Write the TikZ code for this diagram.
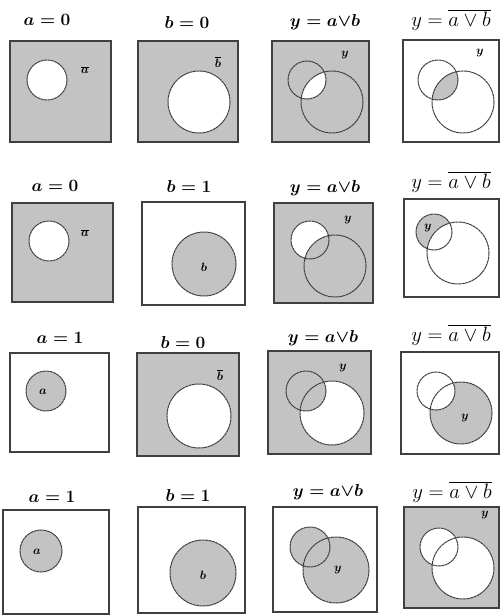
\documentclass[tikz,border=0pt]{standalone}
\begin{document}
\begin{tikzpicture}[x=1pt,y=-1pt,
  box/.style={draw=black!75, line width=1.1pt},
  circ/.style={draw=black!75, line width=1pt, dash pattern=on 3pt off 0.5pt},
  ttl/.style={font=\fontsize{19}{22}\selectfont\boldmath, inner sep=0pt},
  ttlb/.style={font=\fontsize{21}{24}\selectfont, inner sep=0pt},
  lbl/.style={font=\fontsize{12}{14}\selectfont\boldmath, inner sep=0pt}]
\definecolor{sh}{RGB}{195,195,195}
\useasboundingbox (0,0) rectangle (501,616);
% ---------------- Row 1 ----------------
\filldraw[box, fill=sh] (10,41) rectangle (111,142);
\filldraw[circ, fill=white] (47,80) circle (20);
\node[lbl] (l11) at (85,70) {$\overline{a}$};
\node[ttl] (t11) at (47,20) {$a = 0$};
\filldraw[box, fill=sh] (138,41) rectangle (238,142);
\filldraw[circ, fill=white] (199,102) circle (31);
\node[lbl] (l12) at (218,62) {$\overline{b}$};
\node[ttl] (t12) at (187,22) {$b = 0$};
\filldraw[box, fill=sh] (272,41) rectangle (369,142);
\begin{scope}\clip (307,80) circle (19); \fill[white] (332,102) circle (31);\end{scope}
\draw[circ] (307,80) circle (19) (332,102) circle (31);
\node[lbl] (l13) at (345,55) {$y$};
\node[ttl] (t13) at (325,22) {$y = a{\vee}b$};
\draw[box] (403,40) rectangle (499,142);
\begin{scope}\clip (438,80) circle (20); \fill[sh] (463,102) circle (31);\end{scope}
\draw[circ] (438,80) circle (20) (463,102) circle (31);
\node[lbl] (l14) at (480,53) {$y$};
\node[ttlb] (t14) at (451,20) {$y = \overline{a\vee b}$};
% ---------------- Row 2 ----------------
\filldraw[box, fill=sh] (12,203) rectangle (113,302);
\filldraw[circ, fill=white] (49,241) circle (20);
\node[lbl] (l21) at (85,233) {$\overline{a}$};
\node[ttl] (t21) at (55,186) {$a = 0$};
\draw[box] (142,202) rectangle (245,305);
\filldraw[circ, fill=sh] (204,264) circle (32);
\node[lbl] (l22) at (204,267) {$b$};
\node[ttl] (t22) at (189,186) {$b = 1$};
\filldraw[box, fill=sh] (274,203) rectangle (373,303);
\fill[white] (310,240) circle (19);
\fill[sh] (335,266) circle (31);
\draw[circ] (310,240) circle (19) (335,266) circle (31);
\node[lbl] (l23) at (348,220) {$y$};
\node[ttl] (t23) at (325,188) {$y = a{\vee}b$};
\draw[box] (404,199) rectangle (499,297);
\fill[sh] (434,232) circle (18);
\fill[white] (458,253) circle (31);
\draw[circ] (434,232) circle (18) (458,253) circle (31);
\node[lbl] (l24) at (428,228) {$y$};
\node[ttlb] (t24) at (451,182) {$y = \overline{a\vee b}$};
% ---------------- Row 3 ----------------
\draw[box] (10,353) rectangle (109,452);
\filldraw[circ, fill=sh] (46,391) circle (20);
\node[lbl] (l31) at (43,392) {$a$};
\node[ttl] (t31) at (60,338) {$a = 1$};
\filldraw[box, fill=sh] (137,353) rectangle (239,456);
\filldraw[circ, fill=white] (199,416) circle (32);
\node[lbl] (l32) at (220,375) {$\overline{b}$};
\node[ttl] (t32) at (183,342) {$b = 0$};
\filldraw[box, fill=sh] (268,351) rectangle (371,454);
\fill[white] (332,413) circle (32);
\fill[sh] (306,391) circle (20);
\draw[circ] (306,391) circle (20) (332,413) circle (32);
\node[lbl] (l33) at (343,368) {$y$};
\node[ttl] (t33) at (323,338) {$y = a{\vee}b$};
\draw[box] (401,352) rectangle (499,454);
\fill[sh] (461,413) circle (31);
\fill[white] (436,391) circle (19);
\draw[circ] (436,391) circle (19) (461,413) circle (31);
\node[lbl] (l34) at (465,418) {$y$};
\node[ttlb] (t34) at (451,335) {$y = \overline{a\vee b}$};
% ---------------- Row 4 ----------------
\draw[box] (3,510) rectangle (109,614);
\filldraw[circ, fill=sh] (41,551) circle (21);
\node[lbl] (l41) at (37,552) {$a$};
\node[ttl] (t41) at (52,497) {$a = 1$};
\draw[box] (138,507) rectangle (245,613);
\filldraw[circ, fill=sh] (203,573) circle (33);
\node[lbl] (l42) at (203,575) {$b$};
\node[ttl] (t42) at (188,495) {$b = 1$};
\draw[box] (273,507) rectangle (377,612);
\fill[sh] (310,547) circle (20) (336,570) circle (33);
\draw[circ] (310,547) circle (20) (336,570) circle (33);
\node[lbl] (l43) at (338,570) {$y$};
\node[ttl] (t43) at (328,492) {$y = a{\vee}b$};
\filldraw[box, fill=sh] (404,507) rectangle (499,608);
\fill[white] (439,547) circle (19) (463,568) circle (31);
\draw[circ] (439,547) circle (19) (463,568) circle (31);
\node[lbl] (l44) at (485,515) {$y$};
\node[ttlb] (t44) at (452,492) {$y = \overline{a\vee b}$};
\end{tikzpicture}
\end{document}
